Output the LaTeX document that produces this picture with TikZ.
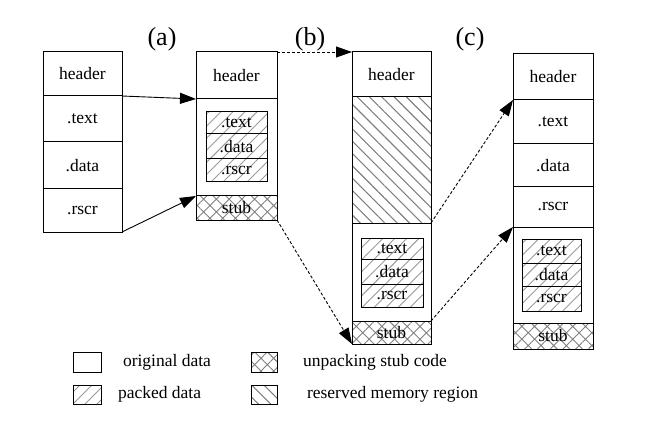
\documentclass[tikz,border=0pt]{standalone}
\usepackage{fontspec}
\setmainfont{Liberation Serif}
\usetikzlibrary{arrows.meta,patterns.meta}
\begin{document}
\begin{tikzpicture}[x=1pt,y=-1pt,
  every node/.style={font=\fontsize{17.5}{20}\selectfont, inner sep=0pt, outer sep=0pt},
  cell/.style={draw=black, line width=1pt, rectangle},
  packed/.style={pattern={Lines[angle=45,distance=8.5pt,line width=0.9pt]}, pattern color=black!40},
  stubfill/.style={pattern={Hatch[angle=45,distance=9pt,line width=0.9pt]}, pattern color=black!50},
  reserved/.style={pattern={Lines[angle=-45,distance=8.7pt,line width=1.1pt]}, pattern color=black!50},
  lab/.style={font=\fontsize{26}{28}\selectfont},
  solidarrow/.style={-{Triangle[length=16pt,width=11pt]}, line width=0.9pt, black},
  dasharrow/.style={-{Triangle[length=16pt,width=11pt]}, line width=0.9pt, black, dash pattern=on 3pt off 2pt},
  legtext/.style={anchor=west}
]
\useasboundingbox (0,0) rectangle (651,441);
% labels
\node[lab] (la) at (162,39) {(a)};
\node[lab] (lb) at (310,39) {(b)};
\node[lab] (lc) at (470,39) {(c)};
% Box A
\node[cell, minimum width=79pt, minimum height=44pt] (Ah) at (82.5,74) {header};
\node[cell, minimum width=79pt, minimum height=46pt] (At) at (82.5,119) {.text};
\node[cell, minimum width=79pt, minimum height=47pt] (Ad) at (82.5,165.5) {.data};
\node[cell, minimum width=79pt, minimum height=43pt] (Ar) at (82.5,210.5) {.rscr};
% Box B
\node[cell, minimum width=81pt, minimum height=47pt] (Bh) at (236.5,75.5) {header};
\node[cell, minimum width=81pt, minimum height=97pt] (Bb) at (236.5,147.5) {};
\node[cell, packed, minimum width=61pt, minimum height=22pt] (Bt) at (236.5,123) {.text};
\node[cell, packed, minimum width=61pt, minimum height=25pt] (Bd) at (236.5,146.5) {.data};
\node[cell, packed, minimum width=61pt, minimum height=23pt] (Br) at (236.5,170.5) {.rscr};
\node[cell, stubfill, minimum width=81pt, minimum height=24pt] (Bs) at (236.5,208) {stub};
% Box C
\node[cell, minimum width=79pt, minimum height=45pt] (Ch) at (391.5,74.5) {header};
\node[cell, reserved, minimum width=79pt, minimum height=126pt] (Cx) at (391.5,160) {};
\node[cell, minimum width=79pt, minimum height=98pt] (Cb) at (391.5,272) {};
\node[cell, packed, minimum width=62pt, minimum height=21pt] (Ct) at (392,248.5) {.text};
\node[cell, packed, minimum width=62pt, minimum height=25pt] (Cd) at (392,271.5) {.data};
\node[cell, packed, minimum width=62pt, minimum height=23pt] (Cr) at (392,295.5) {.rscr};
\node[cell, stubfill, minimum width=79pt, minimum height=23pt] (Cs) at (391.5,332.5) {stub};
% Box D
\node[cell, minimum width=80pt, minimum height=46pt] (Dh) at (553,77) {header};
\node[cell, minimum width=80pt, minimum height=44pt] (Dt) at (553,122) {.text};
\node[cell, minimum width=80pt, minimum height=43pt] (Dd) at (553,165.5) {.data};
\node[cell, minimum width=80pt, minimum height=40pt] (Dr) at (553,207) {.rscr};
\node[cell, minimum width=80pt, minimum height=96pt] (Db) at (553,275) {};
\node[cell, packed, minimum width=59pt, minimum height=24pt] (Dpt) at (551.5,251) {.text};
\node[cell, packed, minimum width=59pt, minimum height=23pt] (Dpd) at (551.5,274.5) {.data};
\node[cell, packed, minimum width=59pt, minimum height=25pt] (Dpr) at (551.5,298.5) {.rscr};
\node[cell, stubfill, minimum width=80pt, minimum height=26pt] (Ds) at (553,336) {stub};
% arrows
\draw[solidarrow] (Ah.south east) -- (Bh.south west);
\draw[solidarrow] (Ar.south east) -- (Bs.north west);
\draw[dasharrow] (Bh.north east) -- (Ch.north west);
\draw[dasharrow] (Bs.south east) -- (Cs.south west);
\draw[dasharrow] (Cx.south east) -- (Dh.south west);
\draw[dasharrow] (Cs.north east) -- (Dr.south west);
% legend
\node[cell, minimum width=28pt, minimum height=20pt] (L1) at (87,362) {};
\node[legtext] (L1t) at (123,362) {original data};
\node[cell, stubfill, minimum width=26pt, minimum height=20pt] (L2) at (264,362) {};
\node[legtext] (L2t) at (303,362) {unpacking stub code};
\node[cell, packed, minimum width=28pt, minimum height=19pt] (L3) at (87,394.5) {};
\node[legtext] (L3t) at (118,394.5) {packed data};
\node[cell, reserved, minimum width=26pt, minimum height=19pt] (L4) at (264,394.5) {};
\node[legtext] (L4t) at (307,394.5) {reserved memory region};
\end{tikzpicture}
\end{document}
